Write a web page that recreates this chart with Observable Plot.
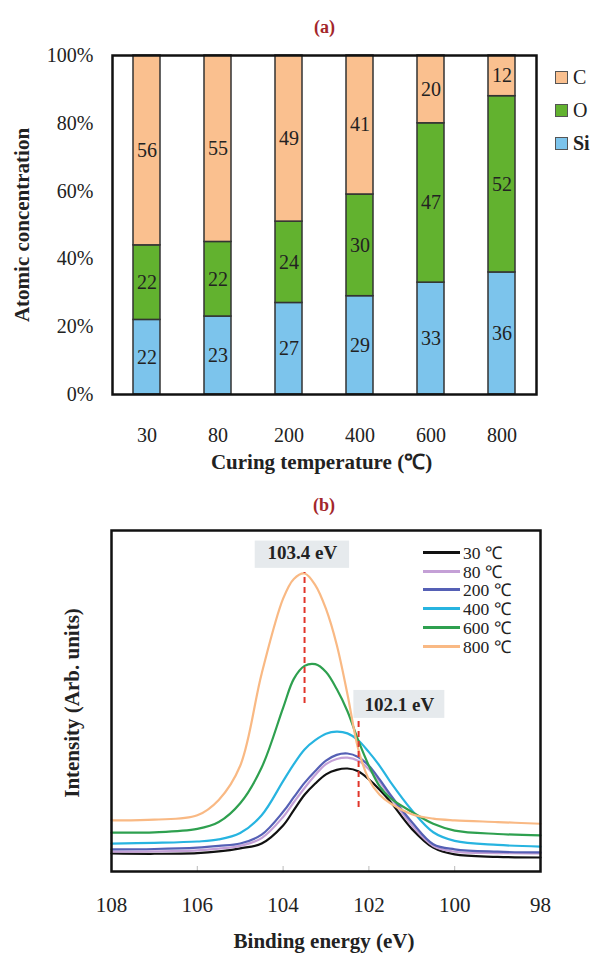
<!DOCTYPE html>
<html>
<head>
<meta charset="utf-8">
<script src="https://cdn.jsdelivr.net/npm/d3@7"></script>
<script src="https://cdn.jsdelivr.net/npm/@observablehq/plot@0.6"></script>
<style>
  html, body { margin: 0; padding: 0; background: #fff; }
  #wrap { position: relative; width: 595px; height: 956px; overflow: hidden; background: #fff;
          font-family: "Liberation Serif", "Times New Roman", serif; color: #222; }
  #pa { position: absolute; left: 0; top: 0; }
  #pb { position: absolute; left: 0; top: 480px; }
  .lega { position: absolute; left: 555px; font-size: 20px; line-height: 20px; white-space: nowrap; }
  .lega span.box { display: inline-block; width: 11px; height: 11px; border: 1px solid #555; margin-right: 5px; vertical-align: 0px; }
  .legb { position: absolute; left: 423px; font-size: 17.5px; line-height: 18px; white-space: nowrap; }
  .legb span.ln { display: inline-block; width: 37px; height: 0; border-top: 3px solid; vertical-align: 5px; margin-right: 3px; }
</style>
</head>
<body>
<div id="wrap">
  <div id="pa"></div>
  <div id="pb"></div>
  <div id="legA"></div>
  <div id="legB"></div>
</div>
<script>
// ---------- Panel (a) data ----------
const temps = ["30", "80", "200", "400", "600", "800"];
const elements = ["Si", "O", "C"];
const elementColors = ["#7cc4ec", "#62b22f", "#fac08f"];
const siValues = [22, 23, 27, 29, 33, 36];
const oValues = [22, 22, 24, 30, 47, 52];
const cValues = [56, 55, 49, 41, 20, 12];
const yTicksA = [0, 20, 40, 60, 80, 100];

// ---------- Panel (b) data ----------
const energies = [108, 107, 106, 105.5, 105, 104.5, 104, 103.75, 103.5, 103.25, 103, 102.75, 102.5, 102.25, 102, 101.75, 101.5, 101, 100.5, 100, 99, 98];
const i30  = [5.3, 5.2, 5.4, 5.9, 6.8, 8.2, 13.5, 18, 22.5, 25.8, 28.5, 29.8, 30.2, 29.4, 27, 24, 20.5, 12.5, 7, 5, 4.3, 4.1];
const i80  = [5.8, 5.9, 6.2, 6.7, 7.5, 9.8, 16, 20.3, 24.5, 28.3, 31.5, 33, 33.4, 32.5, 30, 26.3, 22, 13.5, 7.5, 5.8, 5.4, 5.3];
const i200 = [6.5, 6.6, 7, 7.5, 8.2, 10.8, 17.5, 21.8, 26, 29.5, 32.5, 34.2, 34.6, 33.6, 31, 27, 22.5, 14.5, 8, 6.5, 5.8, 5.6];
const i400 = [8.2, 8.4, 8.8, 9.4, 11.3, 16.5, 26.5, 31.5, 35.8, 38.5, 40.4, 41, 40.5, 38.5, 35, 31, 26.3, 18, 11.5, 9, 7.8, 7.3];
const i600 = [11.4, 11.5, 12.5, 14.5, 20, 30.5, 48, 56.5, 60.3, 60.8, 58.5, 53.5, 47, 38.5, 31, 25, 21.5, 17.5, 14, 12, 11, 10.6];
const i800 = [15, 15.2, 16.5, 21, 31, 58, 80, 85.8, 87.4, 84, 77, 66.5, 52, 36, 27, 22.5, 20, 16.8, 15.5, 15, 14.5, 14];
const seriesNames = ["30 ℃", "80 ℃", "200 ℃", "400 ℃", "600 ℃", "800 ℃"];
const seriesColors = ["#111111", "#c4a0d6", "#5560b5", "#27b4e0", "#2ea04f", "#f9b984"];
const xTicksB = [108, 106, 104, 102, 100, 98];

// annotations (peak markers)
const annText = ["103.4 eV", "102.1 eV"];
const annLineE = [103.5, 102.24];
const annLineTop = [87.7, 44.3];
const annLineBottom = [49.3, 18.8];
const annLabelE = [103.55, 101.29];
const annLabelY = [93.3, 49];
const annBoxHalfE = [1.1, 1.06];
const annBoxY1 = [88.9, 44.9];
const annBoxY2 = [96.9, 53.1];

// ---------- Build panel (a) ----------
const valuesByElement = {Si: siValues, O: oValues, C: cValues};
const rowsA = [];
temps.forEach((t, i) => elements.forEach(el => rowsA.push({temp: t, element: el, value: valuesByElement[el][i]})));

const serif = "'Liberation Serif', 'Times New Roman', serif";
const plotA = Plot.plot({
  width: 595, height: 480,
  marginTop: 55, marginBottom: 86, marginLeft: 112, marginRight: 59,
  style: {fontFamily: serif, fontSize: "20px", color: "#222", background: "transparent"},
  x: {type: "band", domain: temps, paddingInner: 0.62, paddingOuter: 0.29, label: null},
  y: {domain: [0, 100], label: null},
  color: {domain: elements, range: elementColors},
  marks: [
    Plot.barY(rowsA, {x: "temp", y: "value", fill: "element", stroke: "#333", strokeWidth: 1.5}),
    Plot.text(rowsA, Plot.stackY({x: "temp", y: "value", z: "element", text: "value", fill: "#222", fontSize: 20})),
    Plot.frame({stroke: "#111", strokeWidth: 2.5}),
    Plot.axisY({ticks: yTicksA, tickSize: 0, tickPadding: 19, tickFormat: d => d + "%", label: null, fill: "#222"}),
    Plot.axisX({tickSize: 0, tickPadding: 33, label: null, fill: "#222"}),
    Plot.text(["(a)"], {frameAnchor: "top", dy: -35, fill: "#a3262b", fontWeight: "bold", fontSize: 18}),
    Plot.text(["Atomic concentration"], {frameAnchor: "left", textAnchor: "middle", dx: -90, rotate: -90, fontWeight: "bold", fontSize: 21, fill: "#222"}),
    Plot.text(["Curing temperature (℃)"], {frameAnchor: "bottom", dy: 74, dx: -3, fontWeight: "bold", fontSize: 21, fill: "#222"})
  ]
});
document.getElementById("pa").appendChild(plotA);

// legend (a): C, O, Si top to bottom
const legA = document.getElementById("legA");
const legOrder = ["C", "O", "Si"];
const legTopsA = [67, 100, 133];
legOrder.forEach((el, k) => {
  const d = document.createElement("div");
  d.className = "lega";
  d.style.top = legTopsA[k] + "px";
  const c = elementColors[elements.indexOf(el)];
  d.innerHTML = `<span class="box" style="background:${c}"></span><span style="${el === "Si" ? "font-weight:bold" : ""}">${el}</span>`;
  legA.appendChild(d);
});

// ---------- Build panel (b) ----------
const allI = [i30, i80, i200, i400, i600, i800];
const rowsB = [];
seriesNames.forEach((s, k) => energies.forEach((e, j) => rowsB.push({series: s, E: e, I: allI[k][j]})));

const ann = annText.map((t, k) => ({
  text: t, lineE: annLineE[k], top: annLineTop[k], bottom: annLineBottom[k],
  labelE: annLabelE[k], labelY: annLabelY[k],
  x1: annLabelE[k] + annBoxHalfE[k], x2: annLabelE[k] - annBoxHalfE[k], y1: annBoxY1[k], y2: annBoxY2[k]
}));

const plotB = Plot.plot({
  width: 595, height: 476,
  marginTop: 50, marginBottom: 85, marginLeft: 111, marginRight: 55,
  style: {fontFamily: serif, fontSize: "21px", color: "#222", background: "transparent"},
  x: {domain: [108, 98], label: null},
  y: {domain: [0, 100], axis: null},
  color: {domain: seriesNames, range: seriesColors},
  marks: [
    Plot.rect(ann, {x1: "x1", x2: "x2", y1: "y1", y2: "y2", fill: "#e6eaed"}),
    Plot.line(rowsB, {x: "E", y: "I", z: "series", stroke: "series", strokeWidth: 2.2, curve: "catmull-rom"}),
    Plot.ruleX(ann, {x: "lineE", y1: "bottom", y2: "top", stroke: "#e0352b", strokeWidth: 2, strokeDasharray: "6,4"}),
    Plot.text(ann, {x: "labelE", y: "labelY", text: "text", fontWeight: "bold", fontSize: 19, fill: "#222"}),
    Plot.ruleX(xTicksB, {x: d => d, insetTop: 336, stroke: "#bbb", strokeWidth: 1}),
    Plot.frame({stroke: "#111", strokeWidth: 2.5}),
    Plot.axisX({ticks: xTicksB, tickSize: 0, tickPadding: 26, label: null, fill: "#222"}),
    Plot.text(["(b)"], {frameAnchor: "top", dy: -32, dx: -2, fill: "#a3262b", fontWeight: "bold", fontSize: 18}),
    Plot.text(["Intensity (Arb. units)"], {frameAnchor: "left", textAnchor: "middle", dx: -39, dy: 2, rotate: -90, fontWeight: "bold", fontSize: 21, fill: "#222"}),
    Plot.text(["Binding energy (eV)"], {frameAnchor: "bottom", dy: 76, dx: -2, fontWeight: "bold", fontSize: 21, fill: "#222"})
  ]
});
document.getElementById("pb").appendChild(plotB);

// legend (b)
const legB = document.getElementById("legB");
const legTopsB = [544, 562.7, 581.4, 600.1, 618.8, 637.5];
seriesNames.forEach((s, k) => {
  const d = document.createElement("div");
  d.className = "legb";
  d.style.top = legTopsB[k] + "px";
  d.innerHTML = `<span class="ln" style="border-color:${seriesColors[k]}"></span>${s}`;
  legB.appendChild(d);
});
</script>
</body>
</html>
